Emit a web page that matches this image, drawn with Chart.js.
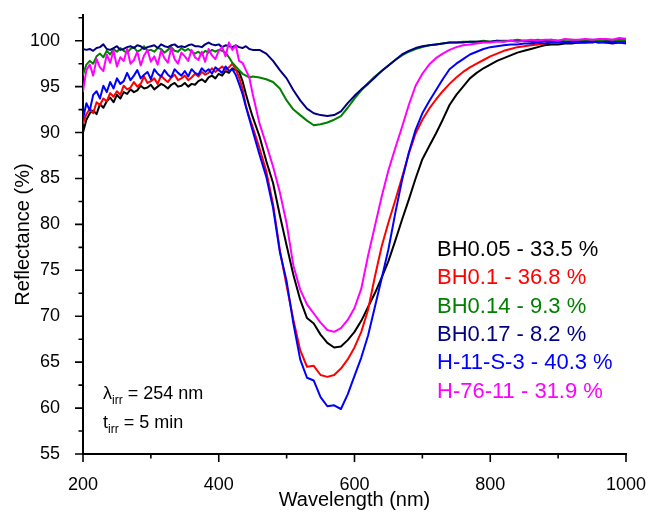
<!DOCTYPE html>
<html>
<head>
<meta charset="utf-8">
<script src="https://cdn.jsdelivr.net/npm/chart.js@4/dist/chart.umd.min.js"></script>
<style>
html,body{margin:0;padding:0;background:#fff;overflow:hidden}
#wrap{position:relative;width:648px;height:512px}
</style>
</head>
<body>
<div id="wrap"><canvas id="c" width="648" height="512"></canvas></div>
<script>
// ---- data ----
const wavelengths = [
  200,205,210,215,220,225,230,235,240,245,
  250,255,260,265,270,275,280,285,290,295,
  300,305,310,315,320,325,330,335,340,345,
  350,355,360,365,370,375,380,385,390,395,
  400,405,410,415,420,425,430,435,440,445,
  450,
  460,470,480,490,500,510,520,530,540,550,
  560,570,580,590,600,610,620,630,640,650,
  660,670,680,690,700,710,720,730,740,750,
  760,770,780,790,800,810,820,830,840,850,
  860,870,880,890,900,910,920,930,940,950,
  960,970,980,990,1000
];
const bh005 = [
  90.0,91.4,92.1,92.4,92.0,93.1,92.7,93.4,93.8,93.3,
  94.1,93.7,94.4,94.2,94.7,94.4,94.6,95.1,94.8,94.9,
  95.2,94.7,95.0,95.3,95.1,94.8,95.2,95.4,95.0,95.1,
  95.4,95.0,95.3,95.2,95.6,95.8,95.5,96.0,96.2,95.9,
  96.4,96.2,96.7,96.5,97.0,96.8,96.6,95.6,94.2,92.9,
  91.7,
  89.6,86.9,84.5,81.0,77.7,74.5,71.8,69.8,69.2,68.0,
  67.1,66.6,66.7,67.4,68.3,69.5,71.0,72.5,74.2,76.0,
  78.2,80.5,82.7,85.0,87.1,88.5,89.9,91.4,93.0,94.1,
  95.0,95.9,96.5,97.0,97.4,97.8,98.1,98.4,98.7,98.9,
  99.1,99.3,99.5,99.6,99.6,99.7,99.7,99.8,99.8,99.8,
  99.9,99.8,99.9,99.9,99.9
];
const bh01 = [
  91.0,92.0,92.6,92.1,93.3,93.0,93.7,93.4,94.3,93.9,
  94.5,94.1,95.1,94.7,94.9,95.5,95.0,95.3,96.1,95.4,
  95.6,95.9,95.3,96.2,95.8,95.5,96.0,96.3,95.7,95.9,
  96.2,95.7,96.0,96.4,96.1,96.6,96.3,96.5,97.0,96.6,
  96.9,97.2,96.8,97.1,97.5,96.9,96.0,94.8,92.9,91.7,
  90.6,
  88.3,85.8,82.2,77.2,73.3,69.6,66.3,64.5,64.6,63.6,
  63.4,63.6,64.3,65.3,66.6,68.3,70.7,74.3,77.6,80.2,
  82.6,85.1,87.7,89.9,91.4,92.6,93.6,94.5,95.3,96.0,
  96.6,97.1,97.5,97.9,98.3,98.6,98.9,99.1,99.3,99.4,
  99.5,99.6,99.7,99.8,99.8,99.9,99.9,99.9,100.0,99.9,
  100.0,100.0,100.0,100.1,100.0
];
const bh014 = [
  96.3,97.4,97.8,97.5,98.3,98.6,98.2,98.9,98.5,99.1,
  98.8,99.2,98.9,98.7,99.1,99.3,98.8,99.0,99.4,98.9,
  99.0,98.8,99.2,99.1,98.7,99.0,99.3,98.9,98.8,99.2,
  98.9,99.1,98.8,98.6,98.8,98.5,98.9,98.7,99.0,98.8,
  99.0,98.9,98.7,98.2,97.6,97.2,96.8,96.4,96.2,96.0,
  96.1,
  96.0,95.8,95.5,94.8,93.5,92.5,91.9,91.3,90.8,90.9,
  91.1,91.4,91.8,92.7,93.7,94.6,95.4,96.1,96.7,97.3,
  97.9,98.4,98.8,99.1,99.3,99.5,99.6,99.7,99.8,99.8,
  99.9,99.9,99.9,100.0,99.9,100.0,100.0,100.0,100.1,100.0,
  100.0,100.1,100.0,100.1,100.0,100.1,100.1,100.0,100.1,100.1,
  100.0,100.1,100.1,100.0,100.1
];
const bh017 = [
  99.1,99.0,99.1,98.9,99.2,99.3,99.6,99.1,99.0,99.2,
  99.4,99.0,99.1,99.3,99.4,99.2,99.5,99.4,99.1,99.3,
  99.4,99.5,99.2,99.6,99.4,99.3,99.5,99.6,99.3,99.4,
  99.3,99.5,99.6,99.4,99.4,99.3,99.6,99.8,99.6,99.5,
  99.6,99.3,99.5,99.4,99.3,99.5,99.3,99.2,99.4,99.1,
  99.0,
  99.0,98.6,97.8,96.8,95.9,94.6,93.5,92.6,92.1,91.9,
  91.8,91.9,92.3,93.2,94.0,94.7,95.3,96.0,96.7,97.3,
  97.9,98.5,98.9,99.2,99.4,99.5,99.6,99.7,99.8,99.8,
  99.8,99.9,99.9,99.9,99.9,100.0,99.9,100.0,99.9,100.0,
  99.9,99.9,100.0,99.9,99.9,99.8,99.9,99.8,99.8,99.9,
  99.8,99.8,99.7,99.8,99.7
];
const h11s3 = [
  91.5,93.2,92.4,94.1,94.5,93.7,95.1,94.4,95.5,94.8,
  95.9,95.3,95.6,96.5,95.7,96.2,96.8,95.9,96.3,96.6,
  95.8,96.9,96.4,96.1,96.8,96.3,96.0,96.9,96.5,96.2,
  96.7,96.1,96.9,96.5,96.3,97.0,96.6,96.9,96.4,97.1,
  96.8,96.5,97.2,96.7,96.9,96.3,95.3,94.2,92.8,91.5,
  90.2,
  87.6,85.2,81.8,77.0,73.8,69.2,65.3,63.3,63.0,61.2,
  60.2,60.3,59.9,61.5,63.5,65.5,67.9,71.0,74.1,77.3,
  81.2,84.8,87.8,90.3,92.1,93.4,94.6,95.8,96.9,97.5,
  98.0,98.5,98.8,99.1,99.3,99.4,99.5,99.6,99.6,99.7,
  99.7,99.8,99.7,99.8,99.8,99.8,99.9,99.8,99.9,99.9,
  99.8,99.9,99.9,99.8,99.8
];
const h7611 = [
  94.5,96.8,97.4,96.2,98.0,97.1,96.7,98.5,97.6,98.9,
  97.2,98.2,97.8,99.1,97.5,97.9,98.8,97.3,98.4,99.0,
  97.7,98.3,97.4,98.9,98.1,97.6,99.2,98.0,97.5,98.7,
  98.3,97.8,99.0,98.2,97.9,98.8,97.7,99.1,98.4,98.0,
  98.9,99.3,98.3,99.8,99.0,99.5,97.8,97.6,96.8,96.0,
  94.2,
  91.0,88.7,86.3,83.5,80.1,75.5,72.9,71.3,70.3,69.3,
  68.5,68.3,68.7,69.6,70.9,73.0,76.6,79.8,83.0,85.9,
  88.3,90.6,93.0,95.1,96.4,97.4,98.1,98.6,99.0,99.3,
  99.5,99.6,99.7,99.8,99.8,99.9,99.9,100.0,99.9,100.0,
  100.1,100.0,100.1,100.1,100.0,100.2,100.1,100.1,100.2,100.1,
  100.2,100.2,100.1,100.3,100.2
];
const seriesValues = [bh005, bh01, bh014, bh017, h11s3, h7611];
const seriesLabels = ["BH0.05 - 33.5 %", "BH0.1 - 36.8 %", "BH0.14 - 9.3 %",
                      "BH0.17 - 8.2 %", "H-11-S-3 - 40.3 %", "H-76-11 - 31.9 %"];
const seriesColors = ["#000000", "#ff0000", "#008000", "#000080", "#0000ff", "#ff00ff"];
const drawOrder = [5, 4, 3, 2, 1, 0];

const xMajorTicks = [200, 400, 600, 800, 1000];
const xMinorTicks = [300, 500, 700, 900];
const yMajorTicks = [55, 60, 65, 70, 75, 80, 85, 90, 95, 100];
const yMinorTicks = [57.5, 62.5, 67.5, 72.5, 77.5, 82.5, 87.5, 92.5, 97.5, 102.5];

const xTitle = "Wavelength (nm)";
const yTitle = "Reflectance (%)";
const noteLines = [["λ", "irr", " = 254 nm"], ["t", "irr", " = 5 min"]];

// ---- chart ----
const FAMILY = '"Liberation Sans", Arial, Helvetica, sans-serif';

const datasets = seriesValues.map((vals, i) => ({
  label: seriesLabels[i],
  data: vals.map((v, j) => ({x: wavelengths[j], y: v})),
  borderColor: seriesColors[i],
  backgroundColor: seriesColors[i],
  borderWidth: 2,
  pointRadius: 0,
  fill: false,
  tension: 0,
  order: drawOrder[i]
}));

const tickPlugin = {
  id: 'axisTicks',
  afterDraw(chart) {
    const {ctx, chartArea: a, scales: {x, y}} = chart;
    ctx.save();
    ctx.strokeStyle = '#000';
    ctx.lineWidth = 1.6;
    ctx.beginPath();
    xMajorTicks.forEach(v => { const p = x.getPixelForValue(v); ctx.moveTo(p, a.bottom); ctx.lineTo(p, a.bottom + 8); });
    xMinorTicks.forEach(v => { const p = x.getPixelForValue(v); ctx.moveTo(p, a.bottom); ctx.lineTo(p, a.bottom + 4.5); });
    yMajorTicks.forEach(v => { const p = y.getPixelForValue(v); ctx.moveTo(a.left, p); ctx.lineTo(a.left - 8, p); });
    yMinorTicks.forEach(v => { const p = y.getPixelForValue(v); ctx.moveTo(a.left, p); ctx.lineTo(a.left - 4.5, p); });
    ctx.stroke();
    ctx.restore();
  }
};

const textPlugin = {
  id: 'texts',
  afterDraw(chart) {
    const {ctx} = chart;
    ctx.save();
    ctx.textBaseline = 'alphabetic';
    ctx.textAlign = 'left';
    ctx.font = '22px ' + FAMILY;
    seriesLabels.forEach((t, i) => {
      ctx.fillStyle = seriesColors[i];
      ctx.fillText(t, 437, 256 + i * 28.3);
    });
    ctx.fillStyle = '#000';
    noteLines.forEach((parts, i) => {
      const base = 399 + i * 29;
      let xx = 103;
      ctx.font = '18px ' + FAMILY;
      ctx.fillText(parts[0], xx, base);
      xx += ctx.measureText(parts[0]).width;
      ctx.font = '12px ' + FAMILY;
      ctx.fillText(parts[1], xx, base + 5);
      xx += ctx.measureText(parts[1]).width;
      ctx.font = '18px ' + FAMILY;
      ctx.fillText(parts[2], xx, base);
    });
    ctx.restore();
  }
};

new Chart(document.getElementById('c').getContext('2d'), {
  type: 'line',
  data: {datasets},
  options: {
    responsive: false,
    animation: false,
    devicePixelRatio: 1,
    layout: {padding: {left: 0, right: 22, top: 15, bottom: 0}},
    plugins: {legend: {display: false}, tooltip: {enabled: false}},
    elements: {line: {borderJoinStyle: 'round', borderCapStyle: 'round'}},
    scales: {
      x: {
        type: 'linear', min: 200, max: 1000,
        ticks: {stepSize: 200, color: '#000', font: {family: FAMILY, size: 18}, padding: 12, maxRotation: 0, autoSkip: false, includeBounds: false,
                callback: v => String(v)},
        grid: {display: false},
        border: {display: true, color: '#000', width: 2},
        title: {display: true, text: xTitle, color: '#000', font: {family: FAMILY, size: 20}, padding: {top: 0, bottom: 0}},
        afterFit(s) { s.height = 58; s.paddingLeft = 0; s.paddingRight = 0; }
      },
      y: {
        type: 'linear', min: 55, max: 102.8,
        ticks: {stepSize: 5, color: '#000', font: {family: FAMILY, size: 18}, padding: 15, includeBounds: false, autoSkip: false,
                callback: v => (v % 5 === 0 ? String(v) : '')},
        grid: {display: false},
        border: {display: true, color: '#000', width: 2},
        title: {display: true, text: yTitle, color: '#000', font: {family: FAMILY, size: 20}, padding: {top: 11, bottom: 0}},
        afterFit(s) { s.width = 83; s.paddingTop = 0; s.paddingBottom = 0; }
      }
    }
  },
  plugins: [tickPlugin, textPlugin]
});
</script>
</body>
</html>
